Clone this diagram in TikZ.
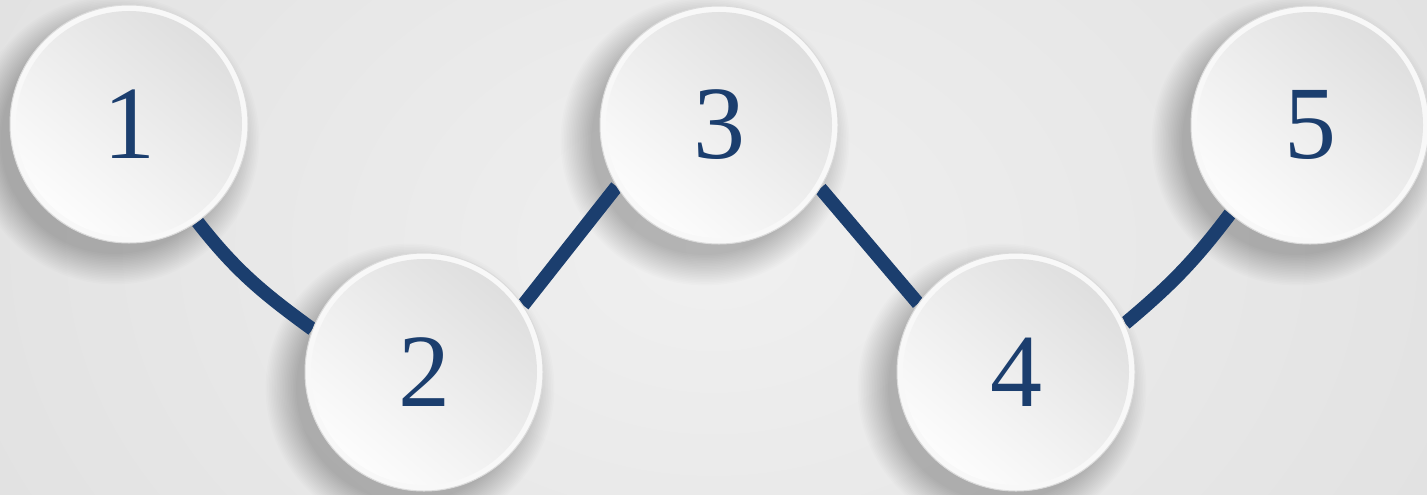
\documentclass[tikz,border=0pt]{standalone}
\usepackage{fontspec}
\setmainfont{Liberation Serif}
\pgfdeclarelayer{shadowlayer}
\pgfdeclarelayer{linelayer}
\pgfsetlayers{shadowlayer,linelayer,main}
\definecolor{navy}{RGB}{27,62,110}
\definecolor{bginner}{RGB}{240,240,240}
\definecolor{bgouter}{RGB}{222,222,222}
\definecolor{rimcol}{RGB}{248,248,248}
\definecolor{facedark}{RGB}{222,222,222}
\definecolor{facelight}{RGB}{253,253,253}
\tikzset{
  disc/.style={circle, minimum size=119pt, inner sep=0pt, fill=rimcol, draw=black!14, line width=0.5pt,
    text=navy, font=\fontsize{52}{52}\selectfont,
    path picture={\shade[top color=facedark, bottom color=facelight, shading angle=-40]
      (path picture bounding box.center) circle (56.5pt);}},
  link/.style={draw=navy, line width=6.8pt}
}
\begin{document}
\begin{tikzpicture}[x=0.5pt,y=0.5pt]
\useasboundingbox (0,0) rectangle (1427,494);
\node[disc] (n1) at (129,370) {1};
\node[disc] (n2) at (424,122) {2};
\node[disc] (n3) at (719,369) {3};
\node[disc] (n4) at (1016,122) {4};
\node[disc] (n5) at (1310,369) {5};
\begin{pgfonlayer}{shadowlayer}
  \shade[inner color=bginner, outer color=bgouter] (-300,-500) rectangle (1727,994);
  \foreach \i in {1,...,5}{
    \foreach \j in {0,...,19}{
      \fill[black, opacity=0.011] ([shift={(-14,-16)}]n\i.center) circle ({(57+0.8*\j)*1pt});
    }
  }
\end{pgfonlayer}
\begin{pgfonlayer}{linelayer}
  \draw[link] (n1.-55) to[out=-52, in=144] (n2.159);
  \draw[link] (n2.34) -- (n3.211);
  \draw[link] (n3.-32) -- (n4.145);
  \draw[link] (n4.24) to[out=40, in=233] (n5.228);
\end{pgfonlayer}
\end{tikzpicture}
\end{document}
